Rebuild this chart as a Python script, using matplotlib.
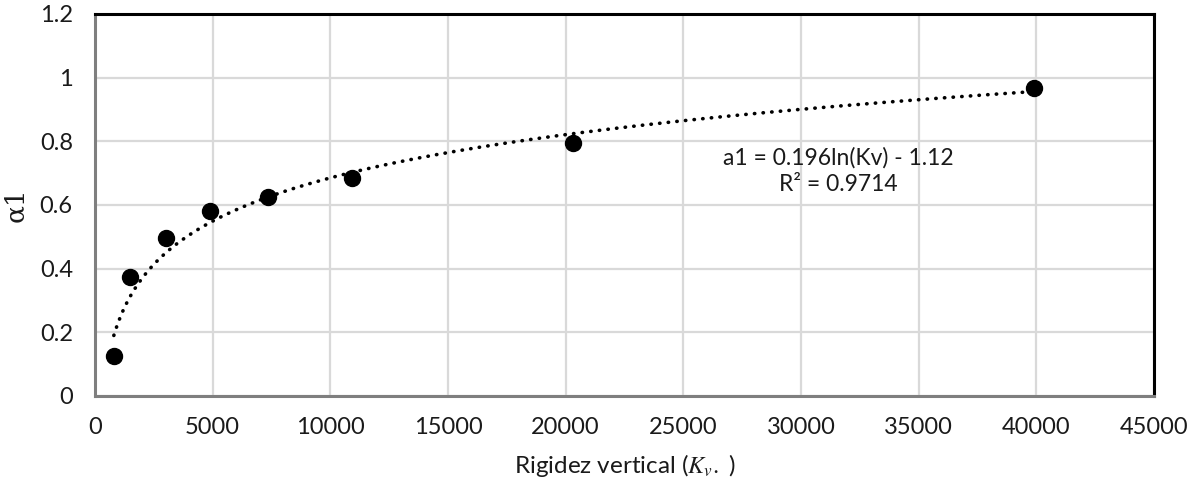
import matplotlib
matplotlib.use("Agg")
import matplotlib.pyplot as plt
import numpy as np

# Datos
kv = [800, 1500, 3000, 4900, 7350, 10900, 20300, 39900]
alpha1 = [0.127, 0.375, 0.497, 0.580, 0.624, 0.686, 0.795, 0.969]

# Línea de tendencia logarítmica (coeficientes mostrados en la etiqueta)
trend_a = 0.196
trend_b = -1.12
trend_label = "a1 = 0.196ln(Kv) - 1.12\nR² = 0.9714"

x_ticks = [0, 5000, 10000, 15000, 20000, 25000, 30000, 35000, 40000, 45000]
y_ticks = [0, 0.2, 0.4, 0.6, 0.8, 1.0, 1.2]
y_tick_labels = ["0", "0.2", "0.4", "0.6", "0.8", "1", "1.2"]

plt.rcParams["font.family"] = ["Lato", "DejaVu Sans"]
plt.rcParams["mathtext.fontset"] = "stix"

fig = plt.figure(figsize=(11.96, 4.82), dpi=100)
ax = fig.add_axes([95 / 1196, 1 - 396 / 482, (1154 - 95) / 1196, (396 - 14) / 482])

xt = np.linspace(min(kv), max(kv), 400)
yt = trend_a * np.log(xt) + trend_b
ax.plot(xt, yt, color="black", linewidth=2.6, linestyle=(0, (0.1, 2.3)),
        dash_capstyle="round", zorder=2)
ax.plot(kv, alpha1, "o", color="black", markersize=11.5, zorder=3)

# Etiqueta de la línea de tendencia
ax.text(31580, 0.706, trend_label, ha="center", va="center", fontsize=16.5,
        color="#1a1a1a", linespacing=1.3)

ax.set_xlim(0, 45000)
ax.set_ylim(0, 1.2)
ax.set_xticks(x_ticks)
ax.set_xticklabels([str(v) for v in x_ticks])
ax.set_yticks(y_ticks)
ax.set_yticklabels(y_tick_labels)
ax.tick_params(length=0, labelsize=17, colors="#1a1a1a")
ax.tick_params(axis="x", pad=15)
ax.tick_params(axis="y", pad=16)

ax.grid(True, color="#d9d9d9", linewidth=1.6)
ax.set_axisbelow(True)

for side in ["top", "right"]:
    ax.spines[side].set_color("black")
    ax.spines[side].set_linewidth(2.2)
for side in ["left", "bottom"]:
    ax.spines[side].set_color("#7f7f7f")
    ax.spines[side].set_linewidth(2.2)

ax.set_xlabel(r"Rigidez vertical ($K_{v}.$ )", fontsize=17.5, labelpad=10, color="#1a1a1a")
ax.set_ylabel("α1", fontsize=19, family=["DejaVu Serif"], labelpad=8, color="#1a1a1a")

fig.savefig("out.png", dpi=100)
